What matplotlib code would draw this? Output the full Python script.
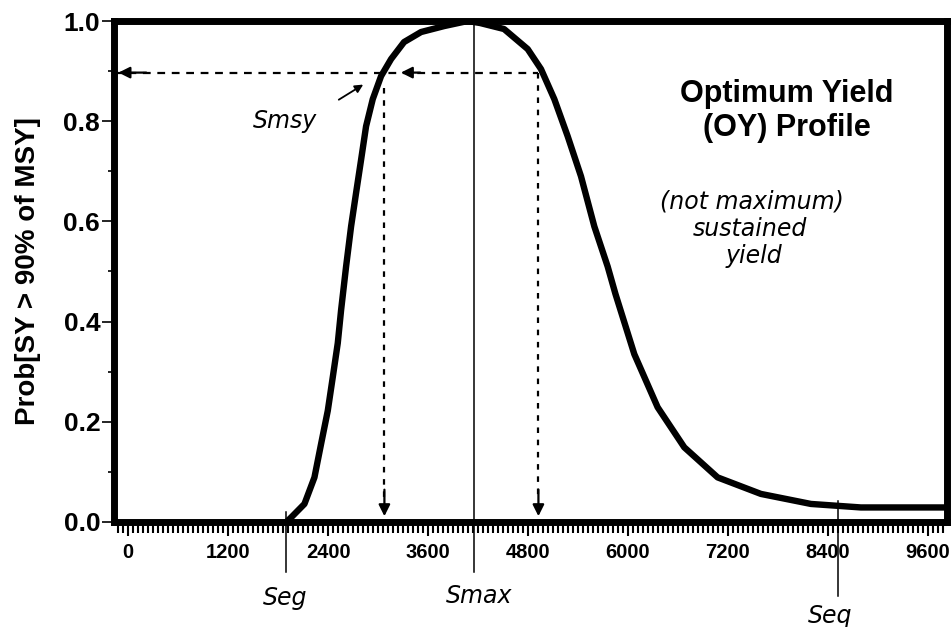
import numpy as np
import matplotlib.pyplot as plt
from matplotlib.ticker import MultipleLocator

plt.rcParams['font.family'] = ['Liberation Sans', 'DejaVu Sans']

# OY profile
spawners = [1900, 1956, 2116, 2236, 2316, 2396, 2456, 2516, 2556, 2616, 2676, 2736, 2796,
            2856, 2936, 3036, 3156, 3312, 3516, 3796, 4076, 4224, 4512, 4796, 4956, 5116,
            5276, 5436, 5596, 5756, 5850, 6076, 6356, 6676, 7076, 7596, 8196, 8796, 9876]
prob = [0.0, 0.009, 0.036, 0.089, 0.156, 0.222, 0.289, 0.357, 0.423, 0.51, 0.59, 0.657,
        0.723, 0.79, 0.844, 0.89, 0.924, 0.958, 0.978, 0.99, 1.0, 0.996, 0.984, 0.944,
        0.904, 0.844, 0.77, 0.69, 0.59, 0.51, 0.455, 0.335, 0.229, 0.149, 0.089, 0.056,
        0.036, 0.029, 0.029]

oy_level = 0.897
s_msy = 3076
s_upper = 4925
s_max = 4150
s_eq_low = 1900
s_eq_high = 8520
s_arrow = 3240

xticks = [0, 1200, 2400, 3600, 4800, 6000, 7200, 8400, 9600]
yticks = [0.0, 0.2, 0.4, 0.6, 0.8, 1.0]

fig = plt.figure(figsize=(9.51, 6.27), dpi=100)
ax = fig.add_axes([0.1199, 0.1675, 0.8759, 0.799])

ax.plot(spawners, prob, color='black', lw=4.6, solid_joinstyle='round', solid_capstyle='round')

# dashed guide lines
dash = dict(color='black', lw=1.6)
ax.plot([-170, s_upper], [oy_level, oy_level], ls=(0, (3.5, 3)), **dash)
ax.plot([s_msy, s_msy], [oy_level - 0.03, 0.05], ls=(0, (2.5, 3)), **dash)
ax.plot([s_upper, s_upper], [oy_level, 0.05], ls=(0, (2.5, 3)), **dash)
head = dict(arrowstyle='-|>', color='black', lw=1.6, mutation_scale=17)
ax.annotate('', xy=(-150, oy_level), xytext=(250, oy_level), arrowprops=head)
ax.annotate('', xy=(s_arrow, oy_level), xytext=(s_arrow + 300, oy_level), arrowprops=head)
ax.annotate('', xy=(s_msy, 0.006), xytext=(s_msy, 0.07), arrowprops=head)
ax.annotate('', xy=(s_upper, 0.006), xytext=(s_upper, 0.07), arrowprops=head)

# thin solid markers (Smax, Seq)
ax.plot([s_max, s_max], [1.0, -0.1], color='black', lw=1.1, clip_on=False)
ax.plot([s_eq_low, s_eq_low], [0.02, -0.1], color='black', lw=1.1, clip_on=False)
ax.plot([s_eq_high, s_eq_high], [0.042, -0.148], color='black', lw=1.1, clip_on=False)

# handwritten notes
hand = dict(fontsize=17, fontstyle='italic', family='DejaVu Sans', va='center')
ax.text(1500, 0.80, 'Smsy', **hand)
ax.annotate('', xy=(2850, 0.876), xytext=(2500, 0.840),
            arrowprops=dict(arrowstyle='-|>', color='black', lw=1.3, mutation_scale=12))
ax.text(1884, -0.152, 'Seg', ha='center', clip_on=False, **hand)
ax.text(4212, -0.148, 'Smax', ha='center', clip_on=False, **hand)
ax.text(8424, -0.188, 'Seq', ha='center', clip_on=False, **hand)
ax.text(6380, 0.64, '(not maximum)', **hand)
ax.text(6780, 0.585, 'sustained', **hand)
ax.text(7170, 0.53, 'yield', **hand)

ax.text(7910, 0.82, 'Optimum Yield\n(OY) Profile', ha='center', va='center',
        fontsize=22, fontweight='bold', linespacing=1.15)

ax.set_xlim(-170, 9830)
ax.set_ylim(0, 1.0)
ax.set_xticks(xticks)
ax.set_xticklabels([str(t) for t in xticks], fontsize=14.5, fontweight='bold')
ax.set_yticks(yticks)
ax.set_yticklabels(['%.1f' % t for t in yticks], fontsize=19, fontweight='bold')
ax.xaxis.set_minor_locator(MultipleLocator(60))
ax.yaxis.set_minor_locator(MultipleLocator(0.1))
ax.tick_params(axis='x', which='major', length=10, width=1.5, pad=5)
ax.tick_params(axis='x', which='minor', length=8, width=1.5)
ax.tick_params(axis='y', which='major', length=9, width=1.2, pad=1)
ax.tick_params(axis='y', which='minor', length=4, width=1.2)
ax.set_ylabel('Prob[SY > 90% of MSY]', fontsize=20, fontweight='bold', labelpad=16)
for s in ax.spines.values():
    s.set_linewidth(5)

fig.savefig('out.png', dpi=100)
